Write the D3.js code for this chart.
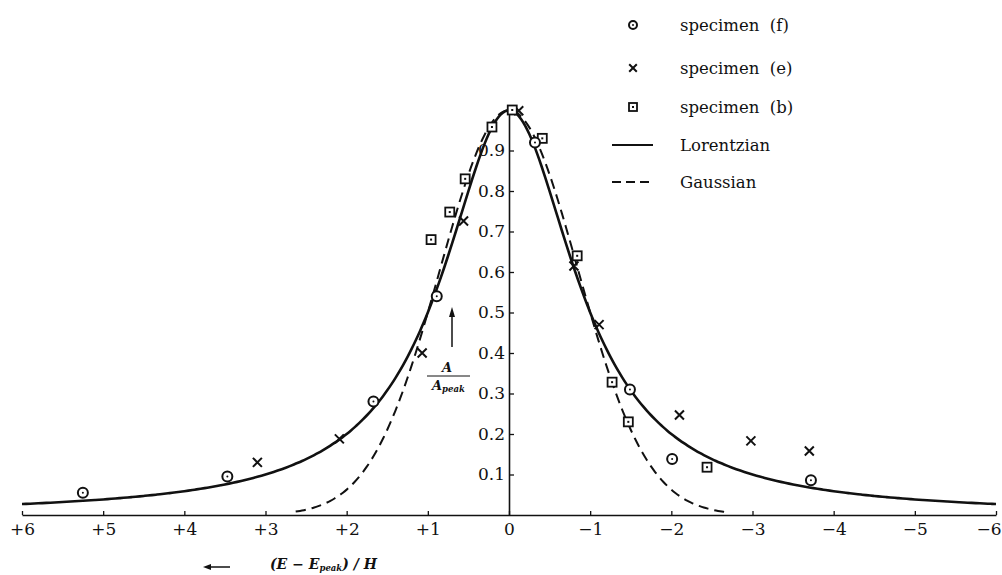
<!DOCTYPE html>
<html>
<head>
<meta charset="utf-8">
<script src="https://cdn.jsdelivr.net/npm/d3@7"></script>
<style>
  html, body { margin: 0; padding: 0; background: #fff; }
  svg { display: block; }
  text { font-family: "DejaVu Serif", "Liberation Serif", serif; fill: #111; }
</style>
</head>
<body>
<svg id="chart" width="1002" height="575"></svg>
<script>
// ---- data (x = (E - E_peak)/H, positive to the left; y = A/A_peak) ----
const specimenF_x = [5.25, 3.47, 1.67, 0.89, -0.32, -1.49, -2.01, -3.72];
const specimenF_y = [0.055, 0.095, 0.28, 0.54, 0.92, 0.31, 0.138, 0.086];

const specimenE_x = [3.10, 2.09, 1.07, 0.56, -0.12, -0.80, -1.11, -2.10, -2.98, -3.70];
const specimenE_y = [0.13, 0.188, 0.40, 0.726, 0.998, 0.615, 0.47, 0.247, 0.183, 0.158];

const specimenB_x = [0.96, 0.73, 0.54, 0.21, -0.04, -0.41, -0.84, -1.27, -1.47, -2.44];
const specimenB_y = [0.68, 0.748, 0.83, 0.958, 1.0, 0.93, 0.64, 0.328, 0.23, 0.118];

// Curve sample abscissae (values evaluated from the model functions below)
const lorentzX = d3.range(-6, 6.0001, 0.05);
const gaussX = d3.range(-2.65, 2.6501, 0.05);

const xTicks = [6, 5, 4, 3, 2, 1, 0, -1, -2, -3, -4, -5, -6];
const yTicks = [0.1, 0.2, 0.3, 0.4, 0.5, 0.6, 0.7, 0.8, 0.9];

const legendLabels = ["specimen  (f)", "specimen  (e)", "specimen  (b)", "Lorentzian", "Gaussian"];
const legendKinds = ["circle", "cross", "square", "solid", "dashed"];

// ---- scales ----
const svg = d3.select("#chart");
const x = d3.scaleLinear().domain([6, -6]).range([22, 996]);
const y = d3.scaleLinear().domain([0, 1]).range([515, 110]);

const lorentz = v => 1 / (1 + v * v);
const gauss = v => Math.exp(-Math.LN2 * v * v);

// ---- axes ----
const xAxis = d3.axisBottom(x)
  .tickValues(xTicks)
  .tickSizeInner(-4).tickSizeOuter(0).tickPadding(8)
  .tickFormat(d => d > 0 ? "+" + d : d < 0 ? "\u2212" + Math.abs(d) : "0");
const gx = svg.append("g").attr("transform", `translate(0,${y(0)})`).call(xAxis);
gx.select(".domain").attr("stroke", "#111").attr("stroke-width", 1.6);
gx.selectAll(".tick line").attr("stroke", "#111").attr("stroke-width", 1.3);
gx.selectAll(".tick text").attr("font-size", 17).attr("font-family", "DejaVu Serif").attr("fill", "#111");
gx.selectAll(".tick text").filter(d => d === -6).attr("text-anchor", "end").attr("x", 5);

const yAxis = d3.axisLeft(y)
  .tickValues(yTicks)
  .tickSizeInner(-5).tickSizeOuter(0).tickPadding(4)
  .tickFormat(d3.format(".1f"));
const gy = svg.append("g").attr("transform", `translate(${x(0)},0)`).call(yAxis);
gy.select(".domain").attr("stroke", "#111").attr("stroke-width", 1.6);
gy.selectAll(".tick line").attr("stroke", "#111").attr("stroke-width", 1.3);
gy.selectAll(".tick text").attr("font-size", 17).attr("font-family", "DejaVu Serif").attr("fill", "#111");

// ---- curves ----
const line = d3.line().x(d => x(d[0])).y(d => y(d[1])).curve(d3.curveBasis);
svg.append("path")
  .datum(lorentzX.map(v => [v, lorentz(v)]))
  .attr("d", line).attr("fill", "none").attr("stroke", "#111").attr("stroke-width", 2.6);
svg.append("path")
  .datum(gaussX.map(v => [v, gauss(v)]))
  .attr("d", line).attr("fill", "none").attr("stroke", "#111").attr("stroke-width", 2)
  .attr("stroke-dasharray", "10,6");

// ---- markers ----
function drawCircle(g, cx, cy, r) {
  g.append("circle").attr("cx", cx).attr("cy", cy).attr("r", r)
    .attr("fill", "#fff").attr("stroke", "#111").attr("stroke-width", 2);
  g.append("circle").attr("cx", cx).attr("cy", cy).attr("r", 1).attr("fill", "#111");
}
function drawCross(g, cx, cy, s) {
  g.append("path")
    .attr("d", `M${cx - s},${cy - s}L${cx + s},${cy + s}M${cx - s},${cy + s}L${cx + s},${cy - s}`)
    .attr("stroke", "#111").attr("stroke-width", 2).attr("fill", "none");
}
function drawSquare(g, cx, cy, s) {
  g.append("rect").attr("x", cx - s).attr("y", cy - s).attr("width", 2 * s).attr("height", 2 * s)
    .attr("fill", "#fff").attr("stroke", "#111").attr("stroke-width", 1.8);
  g.append("rect").attr("x", cx - 1).attr("y", cy - 1).attr("width", 2).attr("height", 2).attr("fill", "#111");
}

const gm = svg.append("g");
specimenE_x.forEach((v, i) => drawCross(gm, x(v), y(specimenE_y[i]), 4.5));
specimenB_x.forEach((v, i) => drawSquare(gm, x(v), y(specimenB_y[i]), 4.5));
specimenF_x.forEach((v, i) => drawCircle(gm, x(v), y(specimenF_y[i]), 5));

// ---- legend ----
const legY = [25, 68, 107, 145, 182];
const gl = svg.append("g");
legendKinds.forEach((k, i) => {
  const cy = legY[i];
  if (k === "circle") drawCircle(gl, 633, cy, 4);
  if (k === "cross") drawCross(gl, 633, cy, 3.8);
  if (k === "square") drawSquare(gl, 633, cy, 4);
  if (k === "solid") gl.append("line").attr("x1", 612).attr("x2", 653).attr("y1", cy).attr("y2", cy)
    .attr("stroke", "#111").attr("stroke-width", 2);
  if (k === "dashed") gl.append("line").attr("x1", 612).attr("x2", 653).attr("y1", cy).attr("y2", cy)
    .attr("stroke", "#111").attr("stroke-width", 2).attr("stroke-dasharray", "9,5");
  gl.append("text").attr("x", 680).attr("y", cy + 6).attr("font-size", 16.5)
    .style("white-space", "pre").text(legendLabels[i]);
});

// ---- y label (fraction with arrow) ----
const ga = svg.append("g");
ga.append("line").attr("x1", 452).attr("x2", 452).attr("y1", 347).attr("y2", 313)
  .attr("stroke", "#111").attr("stroke-width", 1.5);
ga.append("path").attr("d", "M452,307L449,317L455,317Z").attr("fill", "#111");
ga.append("text").attr("x", 447).attr("y", 372).attr("font-size", 13).attr("font-style", "italic")
  .attr("font-weight", "bold").attr("font-family", "Liberation Serif")
  .attr("text-anchor", "middle").text("A");
ga.append("line").attr("x1", 427).attr("x2", 470).attr("y1", 376).attr("y2", 376)
  .attr("stroke", "#111").attr("stroke-width", 1);
const t2 = ga.append("text").attr("x", 432).attr("y", 390).attr("font-size", 13).attr("font-style", "italic")
  .attr("font-weight", "bold").attr("font-family", "Liberation Serif");
t2.append("tspan").text("A");
t2.append("tspan").attr("font-size", 8.5).attr("dy", 2).text("peak");

// ---- x label ----
svg.append("line").attr("x1", 209).attr("x2", 230).attr("y1", 567).attr("y2", 567)
  .attr("stroke", "#111").attr("stroke-width", 1.5);
svg.append("path").attr("d", "M203,567L211,564L211,570Z").attr("fill", "#111");
const xl = svg.append("text").attr("x", 270).attr("y", 569).attr("font-size", 14).attr("font-style", "italic")
  .attr("font-weight", "bold").attr("font-family", "Liberation Serif").style("white-space", "pre");
xl.append("tspan").text("(E \u2212 E");
xl.append("tspan").attr("font-size", 8.5).attr("dy", 2).text("peak");
xl.append("tspan").attr("dy", -2).text(") / H");
</script>
</body>
</html>
